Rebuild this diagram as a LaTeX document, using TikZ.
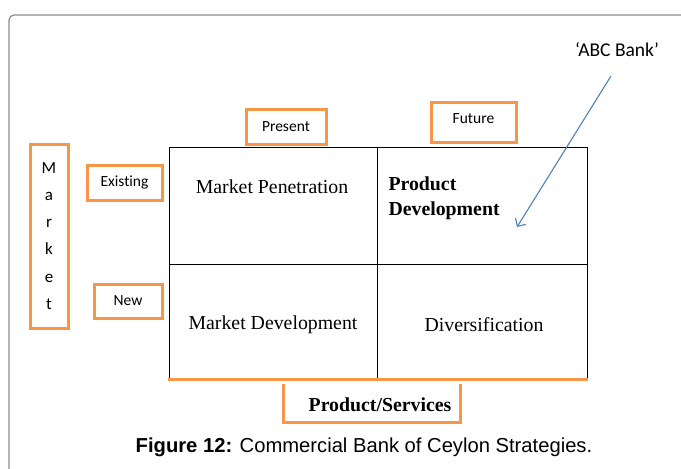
\documentclass[tikz,border=0pt]{standalone}
\usepackage{fontspec}
\setmainfont{Liberation Serif}
\newfontfamily\calfont[Ligatures=NoCommon]{Carlito}
\newfontfamily\capfont{Liberation Sans}
\usetikzlibrary{arrows.meta}
\definecolor{boxorange}{HTML}{F79646}
\definecolor{arrowblue}{HTML}{4F81BD}
\definecolor{framegray}{HTML}{8C8C8C}
\begin{document}
\begin{tikzpicture}[x=1pt, y=-1pt,
  obox/.style={draw=boxorange, line width=3pt, inner sep=0pt, font=\calfont\fontsize{15.5}{18}\selectfont},
  cell/.style={font=\fontsize{19.8}{25}\selectfont}]
\useasboundingbox (0,0) rectangle (681,469);
% frame round the figure
\draw[framegray, line width=1.2pt, rounded corners=5pt] (9,15) rectangle (720,500);
% the grid
\draw[line width=0.9pt] (169,147) rectangle (587,379);
\draw[line width=0.9pt] (377,147) -- (377,379);
\draw[line width=0.9pt] (169,264) -- (587,264);
\draw[boxorange, line width=3pt] (168,379.5) -- (588,379.5);
% cell texts
\node[cell] (penetration) at (272,187) {Market Penetration};
\node[cell, font=\bfseries\fontsize{19.8}{25}\selectfont, anchor=west, align=left] (proddev) at (385,198.5) {Product\\Development};
\node[cell] (mktdev) at (273,325) {Market Development};
\node[cell] (diversify) at (484,325) {Diversification};
% side labels
\node[obox, minimum width=38pt, minimum height=184pt, align=center, font=\calfont\fontsize{17}{27.2}\selectfont] (market) at (49,236) {M\\a\\r\\k\\e\\t};
\node[obox, minimum width=75pt, minimum height=35pt] (existing) at (124.5,182.5) {Existing};
\node[obox, minimum width=68pt, minimum height=34pt] (new) at (128,301) {New};
\node[obox, minimum width=80pt, minimum height=35pt] (present) at (286,126.5) {Present};
\node[obox, minimum width=85pt, minimum height=40pt, text depth=6pt] (future) at (473.5,122) {Future};
% product axis
\node[cell, font=\bfseries\fontsize{19.8}{25}\selectfont] (prodserv) at (380,405) {Product/Services};
\draw[boxorange, line width=3pt] (283.5,384) |- (460.5,422.5) -- (460.5,384);
% pointer
\node[font=\calfont\fontsize{19.5}{22}\selectfont] (abc) at (617,50) {‘ABC Bank’};
\coordinate (arrstart) at (611,76);
\coordinate (arrtip) at (517,227);
\draw[arrowblue, line width=1.1pt, -{Straight Barb[length=6pt, width=12pt]}] (arrstart) -- (arrtip);
% caption
\node[font=\capfont\fontsize{20.2}{22}\selectfont] (caption) at (364,447) {\textbf{Figure 12:} Commercial Bank of Ceylon Strategies.};
\end{tikzpicture}
\end{document}
